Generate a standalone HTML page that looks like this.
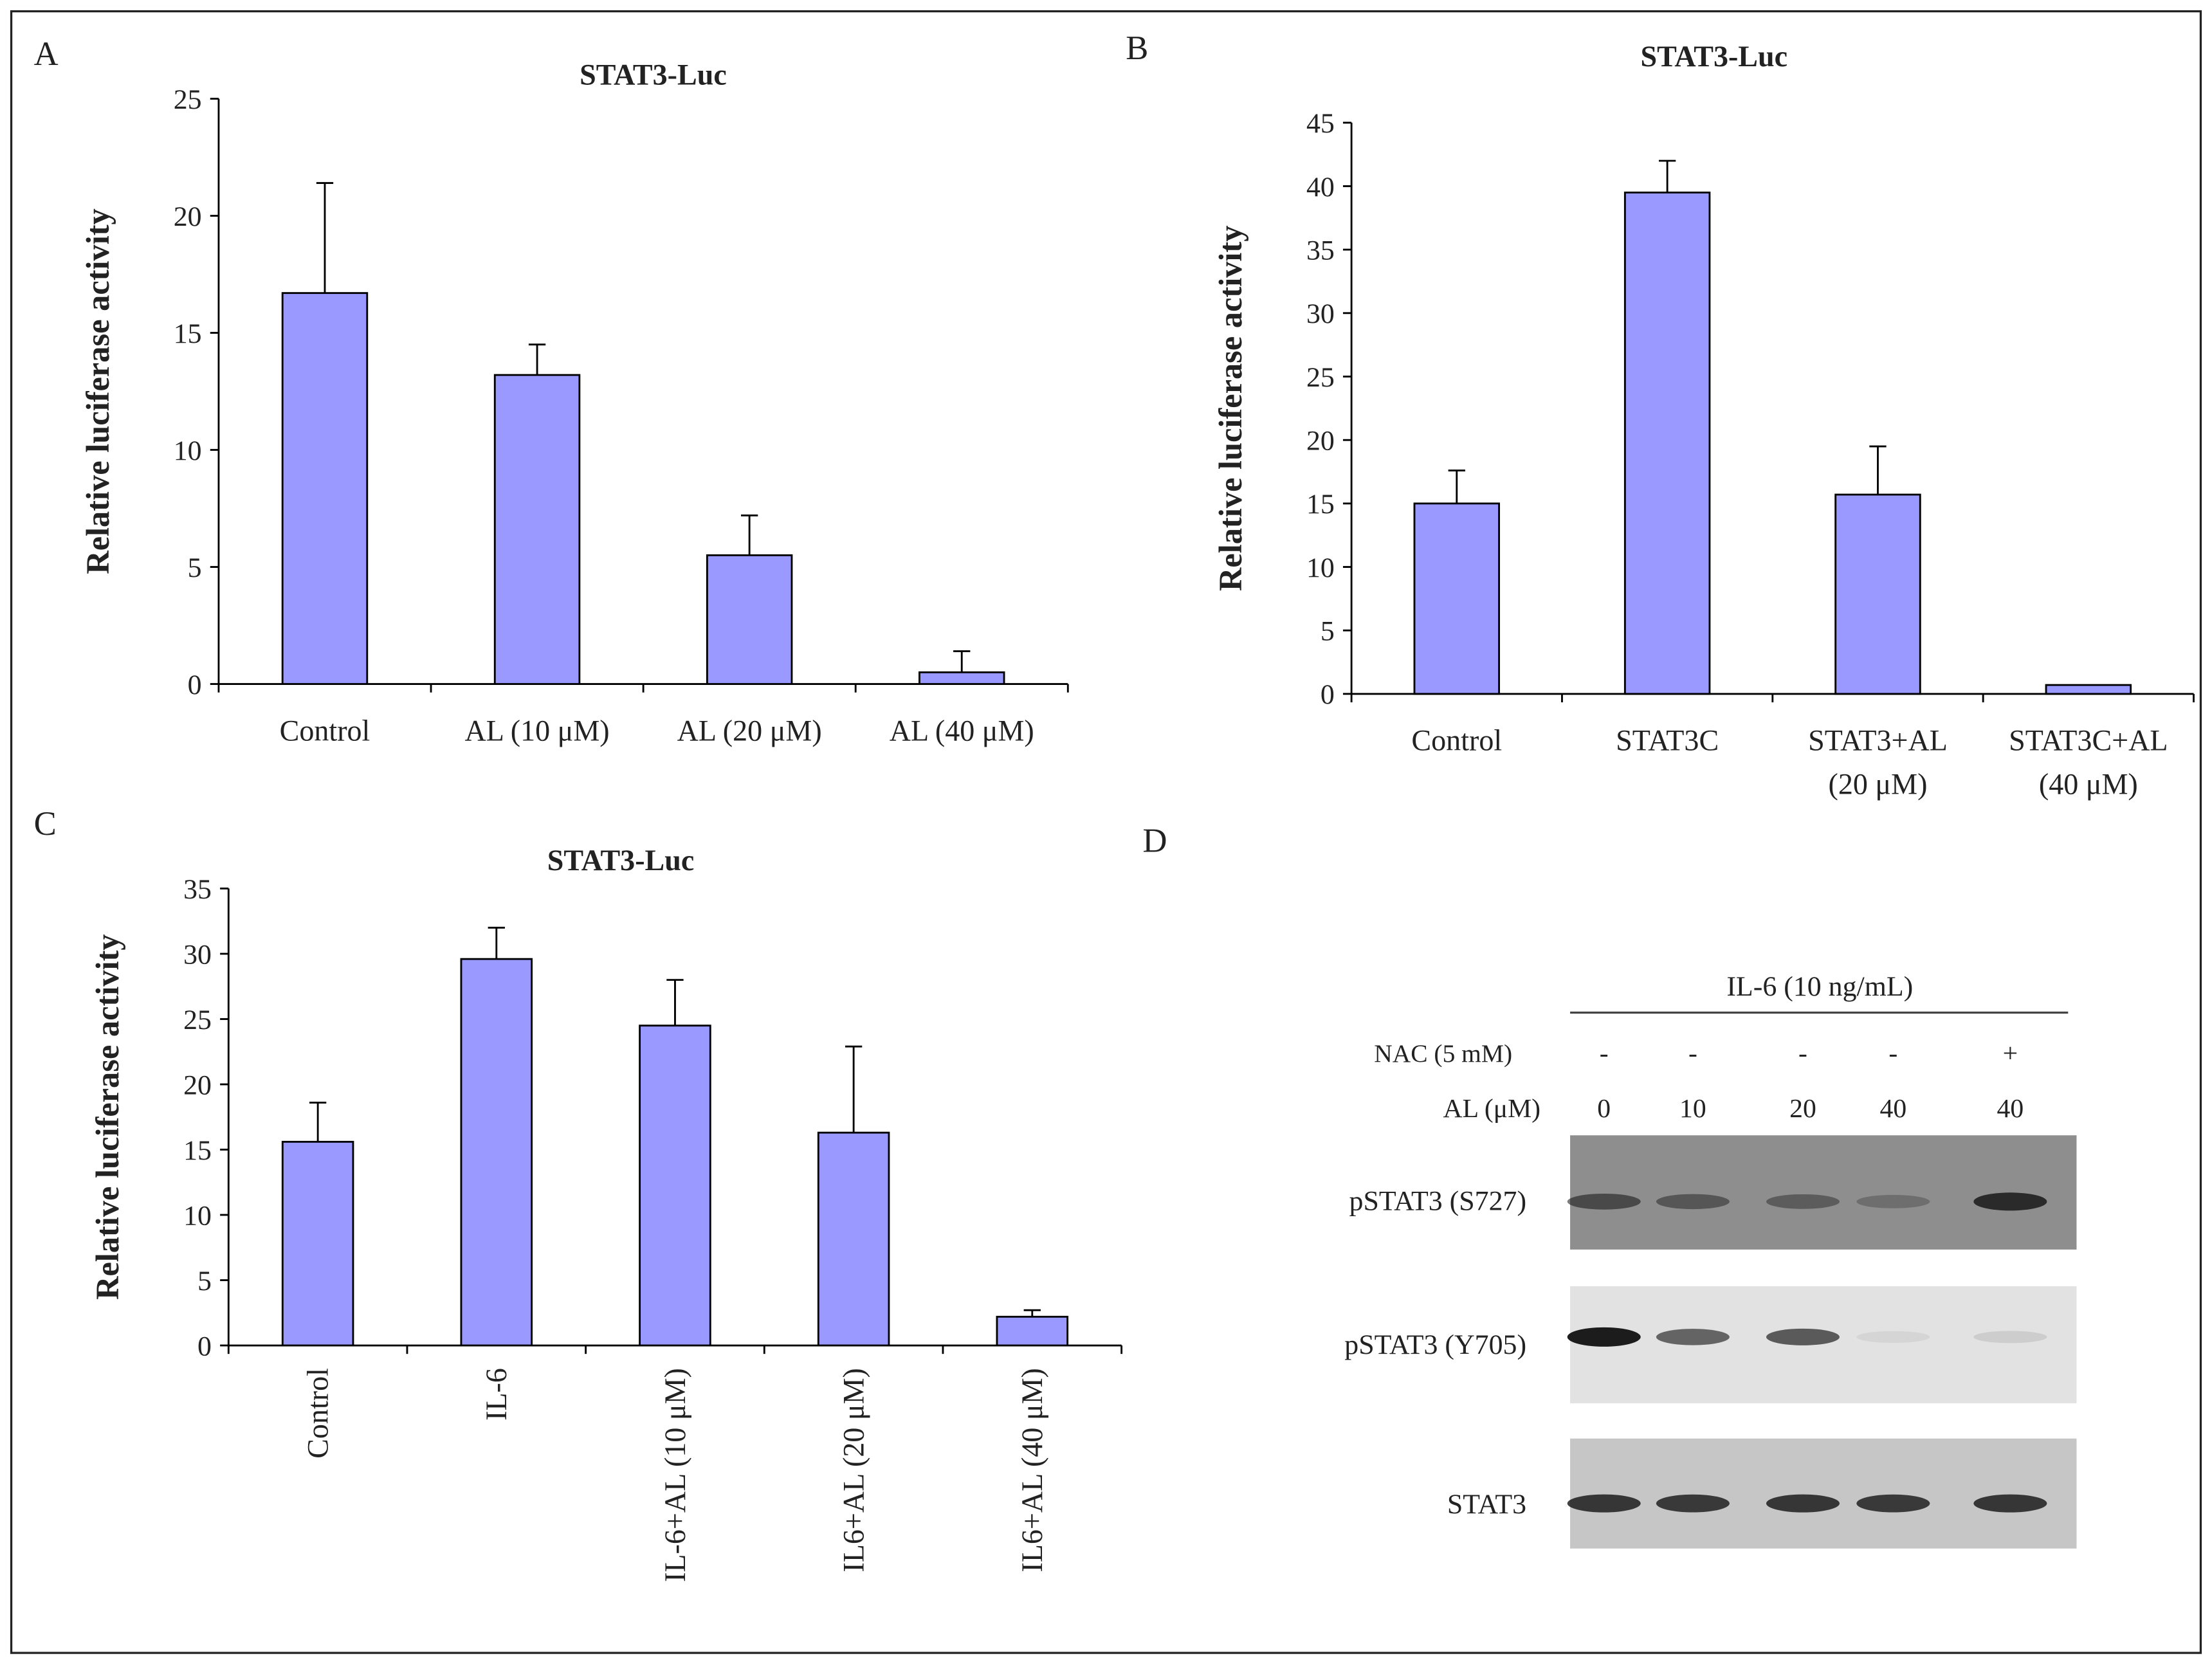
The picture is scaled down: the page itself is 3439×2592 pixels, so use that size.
<!DOCTYPE html>
<html><head><meta charset="utf-8">
<style>
html,body{margin:0;padding:0;background:#fff;}
svg{display:block;}
text{font-family:"Liberation Serif",serif;fill:#222;}
</style></head>
<body>
<svg id="fig" width="3439" height="2592" viewBox="0 0 1568 1182" preserveAspectRatio="none" xmlns="http://www.w3.org/2000/svg">
<rect x="8" y="8" width="1552" height="1164" fill="#fff" stroke="#222" stroke-width="1.5"/>
<text x="24" y="46" font-size="24">A</text>
<text x="798" y="42" font-size="24">B</text>
<text x="24" y="592" font-size="24">C</text>
<text x="810" y="604" font-size="24">D</text>
<g id="blot">
<text x="1290" y="706" font-size="20" text-anchor="middle" font-family="Liberation Sans">IL-6 (10 ng/mL)</text>
<line x1="1113" y1="718" x2="1466" y2="718" stroke="#444" stroke-width="1.5"/>
<text x="1072" y="753" font-size="18" text-anchor="end" font-family="Liberation Sans">NAC (5 mM)</text>
<text x="1092" y="792" font-size="19" text-anchor="end" font-family="Liberation Sans">AL (μM)</text>
<rect x="1113" y="805" width="359" height="81" fill="#8e8e8e"/>
<rect x="1113" y="912" width="359" height="83" fill="#e2e2e2"/>
<rect x="1113" y="1020" width="359" height="78" fill="#c6c6c6"/>
<text x="1082" y="858" font-size="20" text-anchor="end">pSTAT3 (S727)</text>
<text x="1082" y="960" font-size="20" text-anchor="end">pSTAT3 (Y705)</text>
<text x="1082" y="1073" font-size="20" text-anchor="end">STAT3</text>
</g>
</svg>
<script>
const NS="http://www.w3.org/2000/svg";
const svg=document.getElementById('fig');
function mk(tag,attrs,parent){const e=document.createElementNS(NS,tag);for(const k in attrs)e.setAttribute(k,attrs[k]);(parent||svg).appendChild(e);return e;}

// Panel A data
const catsA=["Control","AL (10 μM)","AL (20 μM)","AL (40 μM)"];
const valsA=[16.7,13.2,5.5,0.5];
const errA=[4.7,1.3,1.7,0.9];
const ticksA=[0,5,10,15,20,25];
// Panel B data
const catsB=[["Control"],["STAT3C"],["STAT3+AL","(20 μM)"],["STAT3C+AL","(40 μM)"]];
const valsB=[15.0,39.5,15.7,0.7];
const errB=[2.6,2.5,3.8,0];
const ticksB=[0,5,10,15,20,25,30,35,40,45];
// Panel C data
const catsC=["Control","IL-6","IL-6+AL (10 μM)","IL6+AL (20 μM)","IL6+AL (40 μM)"];
const valsC=[15.6,29.6,24.5,16.3,2.2];
const errC=[3.0,2.4,3.5,6.6,0.5];
const ticksC=[0,5,10,15,20,25,30,35];
// Blot data (band intensity 0-1)
const lanesNAC=["-","-","-","-","+"];
const lanesAL=["0","10","20","40","40"];
const bandS727=[0.55,0.45,0.4,0.25,0.8];
const bandY705=[0.95,0.6,0.65,0.06,0.1];
const bandSTAT3=[0.8,0.78,0.8,0.78,0.8];

function chart(o){
  const g=mk('g',{});
  
  
  const maxV=o.ticks[o.ticks.length-1];
  const y=v=>o.y0-(o.y0-o.yTop)*v/maxV;
  const n=o.cats.length, step=(o.x1-o.x0)/n;
  const x=i=>o.x0+step*(i+0.5);
  const t=mk('text',{x:o.titleX,y:o.titleY,'font-size':21,'font-weight':'bold','text-anchor':'middle'},g);
  
  
  t.textContent="STAT3-Luc";
  const yl=mk('text',{x:0,y:0,'font-size':23,'font-weight':'bold','text-anchor':'middle',transform:`translate(${o.x0-78},${(o.y0+o.yTop)/2}) rotate(-90)`},g);
  
  
  yl.textContent="Relative luciferase activity";
  const ya=mk('line',{x1:o.x0,y1:o.yTop,x2:o.x0,y2:o.y0,stroke:'#000','stroke-width':1.3},g);
  
  
  const xa=mk('line',{x1:o.x0,y1:o.y0,x2:o.x1,y2:o.y0,stroke:'#000','stroke-width':1.3},g);
  
  
  o.ticks.forEach(tv=>{
    const tk=mk('line',{x1:o.x0-6,x2:o.x0,y1:y(tv),y2:y(tv),stroke:'#000','stroke-width':1.3},g);
    
    
    const tl=mk('text',{x:o.x0-12,y:y(tv)+7,'font-size':20,'text-anchor':'end'},g);
    
    
    tl.textContent=tv;
  });
  for(let i=0;i<=n;i++){
    const tk=mk('line',{x1:o.x0+step*i,x2:o.x0+step*i,y1:o.y0,y2:o.y0+6,stroke:'#000','stroke-width':1.3},g);
    
    
  }
  o.vals.forEach((v,i)=>{
    const cx=x(i), top=y(v+o.err[i]);
    if(o.err[i]>0){
      const e=mk('line',{x1:cx,x2:cx,y1:y(v),y2:top,stroke:'#000','stroke-width':1.3},g);
      
      
      const c=mk('line',{x1:cx-6,x2:cx+6,y1:top,y2:top,stroke:'#000','stroke-width':1.3},g);
      
      
    }
    const b=mk('rect',{x:cx-o.bw/2,y:y(v),width:o.bw,height:o.y0-y(v),fill:'#9999ff',stroke:'#000','stroke-width':1.3},g);
    
    
    if(o.rot){
      const l=mk('text',{x:0,y:0,'font-size':21,'text-anchor':'end',transform:`translate(${cx+7},${o.y0+16}) rotate(-90)`},g);
      
      
      l.textContent=o.cats[i];
    } else {
      const lines=Array.isArray(o.cats[i])?o.cats[i]:[o.cats[i]];
      lines.forEach((s,k)=>{
        const l=mk('text',{x:cx,y:o.y0+40+k*31,'font-size':21,'text-anchor':'middle'},g);
        
        
        l.textContent=s;
      });
    }
  });
}
chart({name:'chart-a',cats:catsA,vals:valsA,err:errA,ticks:ticksA,x0:155,x1:757,y0:485,yTop:70,bw:60,titleX:463,titleY:60});
chart({name:'chart-b',cats:catsB,vals:valsB,err:errB,ticks:ticksB,x0:958,x1:1555,y0:492,yTop:87,bw:60,titleX:1215,titleY:47});
chart({name:'chart-c',cats:catsC,vals:valsC,err:errC,ticks:ticksC,x0:162,x1:795,y0:954,yTop:630,bw:50,titleX:440,titleY:617,rot:true});

const blot=document.getElementById('blot');
const laneX=[1137,1200,1278,1342,1425];
lanesNAC.forEach((s,i)=>{
  const t=mk('text',{x:laneX[i],y:753,'font-size':19,'text-anchor':'middle','font-family':'Liberation Sans'},blot);
  
  
  t.textContent=s;
});
lanesAL.forEach((s,i)=>{
  const t=mk('text',{x:laneX[i],y:792,'font-size':19,'text-anchor':'middle','font-family':'Liberation Sans'},blot);
  
  
  t.textContent=s;
});
function bands(arr,cy,name){
  arr.forEach((v,i)=>{
    const b=mk('ellipse',{cx:laneX[i],cy:cy,rx:26,ry:4+3*v,fill:'#111','fill-opacity':v},blot);
    
    
  });
}
bands(bandS727,852,'band-s727');
bands(bandY705,948,'band-y705');
bands(bandSTAT3,1066,'band-stat3');
</script>
</body></html>
